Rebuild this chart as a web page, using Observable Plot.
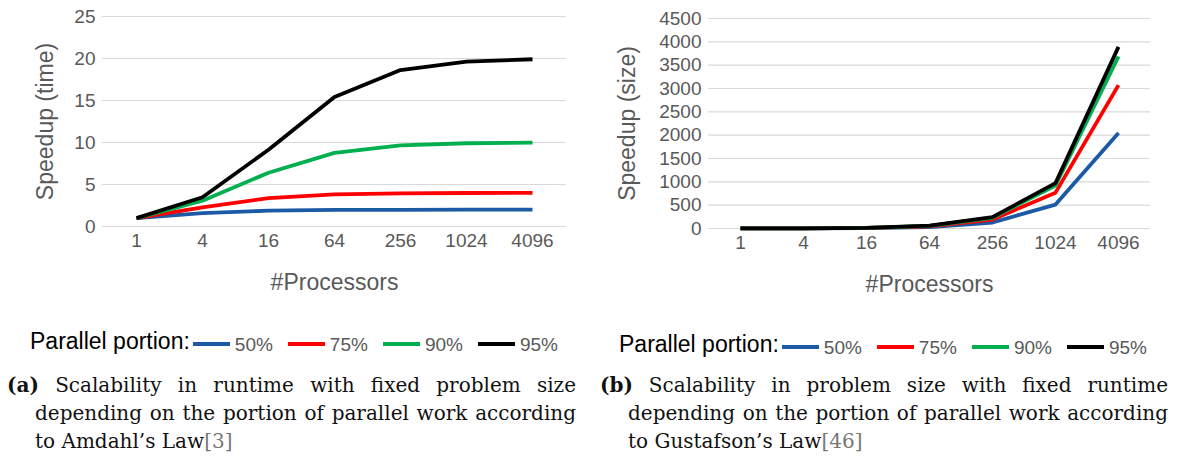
<!DOCTYPE html>
<html><head><meta charset="utf-8">
<script src="https://cdn.jsdelivr.net/npm/d3@7"></script>
<script src="https://cdn.jsdelivr.net/npm/@observablehq/plot@0.6"></script>
<style>
html,body{margin:0;padding:0;background:#fff;width:1181px;height:465px;overflow:hidden;}
.panel{position:absolute;top:0;}
.legend{position:absolute;font-family:"Liberation Sans",Arial,sans-serif;display:flex;align-items:center;white-space:nowrap;height:30px;}
.legend .title{font-size:23px;color:#000;margin-right:3px;}
.legend .sw{display:inline-block;width:37px;height:4px;margin-right:5px;position:relative;top:3px;}
.legend .lab{font-size:19px;color:#595959;margin-right:15px;position:relative;top:4px;}
.caption{position:absolute;font-family:"DejaVu Serif",serif;font-size:20px;line-height:28px;color:#111;}
.caption .ln{display:block;white-space:nowrap;text-align:justify;text-align-last:justify;}
.caption .ln.last{text-align-last:left;}
.caption .ind{padding-left:28px;}
.caption .ref{color:#777;}
</style></head>
<body>
<div id="left" class="panel" style="left:0"></div>
<div id="right" class="panel" style="left:590px"></div>
<div class="legend" id="legL" style="left:30px;top:326px"></div>
<div class="legend" id="legR" style="left:619px;top:329px"></div>
<div class="caption" style="left:7px;top:371px;width:569px">
<span class="ln"><b>(a)</b> Scalability in runtime with fixed problem size</span>
<span class="ln ind">depending on the portion of parallel work according</span>
<span class="ln ind last">to Amdahl’s Law<span class="ref">[3]</span></span>
</div>
<div class="caption" style="left:600px;top:371px;width:568px">
<span class="ln"><b>(b)</b> Scalability in problem size with fixed runtime</span>
<span class="ln ind">depending on the portion of parallel work according</span>
<span class="ln ind last">to Gustafson’s Law<span class="ref">[46]</span></span>
</div>
<script>
const processors = ["1","4","16","64","256","1024","4096"];
const portions = ["50%","75%","90%","95%"];
const colors = ["#1c5aa6","#ff0000","#00b050","#000000"];

// Amdahl speedup (time)
const amdahl50 = [1, 1.6, 1.88, 1.97, 1.99, 2.0, 2.0];
const amdahl75 = [1, 2.29, 3.37, 3.82, 3.95, 3.99, 4.0];
const amdahl90 = [1, 3.08, 6.4, 8.77, 9.66, 9.91, 9.98];
const amdahl95 = [1, 3.48, 9.14, 15.42, 18.62, 19.64, 19.91];

// Gustafson speedup (size)
const gust50 = [1, 2.5, 8.5, 32.5, 128.5, 512.5, 2048.5];
const gust75 = [1, 3.25, 12.25, 48.25, 192.25, 768.25, 3072.25];
const gust90 = [1, 3.7, 14.5, 57.7, 230.5, 921.7, 3686.5];
const gust95 = [1, 3.85, 15.25, 60.85, 243.25, 972.85, 3891.25];

const yTicksL = [0,5,10,15,20,25];
const yTicksR = [0,500,1000,1500,2000,2500,3000,3500,4000,4500];

function rows(series){
  const out=[];
  series.forEach((s,i)=>s.forEach((v,j)=>out.push({p:processors[j],v,s:portions[i]})));
  return out;
}

function chart(data, yDomain, yTicks, yTitle, ml, mr, mt, mb, titleDx){
  return Plot.plot({
    width:590, height:300,
    marginLeft:ml, marginRight:mr, marginTop:mt, marginBottom:mb,
    style:{fontFamily:"'Liberation Sans', Arial, sans-serif", fontSize:"19px", color:"#595959", background:"transparent", overflow:"visible"},
    x:{type:"point", domain:processors, padding:0.5, label:null},
    y:{domain:yDomain, label:null},
    color:{domain:portions, range:colors},
    marks:[
      Plot.gridY(yTicks,{stroke:"#d9d9d9", strokeOpacity:1, strokeWidth:1.2}),
      Plot.axisY(yTicks,{tickSize:0, tickPadding:7, label:null, fill:"#595959", tickFormat:d=>String(d)}),
      Plot.axisX({tickSize:0, tickPadding:7, label:null, fill:"#595959"}),
      Plot.line(data,{x:"p", y:"v", z:"s", stroke:"s", strokeWidth:3.8, strokeLinejoin:"miter", strokeLinecap:"butt"}),
      Plot.text([yTitle],{frameAnchor:"left", dx:titleDx, rotate:-90, textAnchor:"middle", fontSize:23, fill:"#595959"}),
      Plot.text(["#Processors"],{frameAnchor:"bottom", dy:63, textAnchor:"middle", fontSize:23, fill:"#595959"})
    ]
  });
}

document.getElementById("left").append(
  chart(rows([amdahl50,amdahl75,amdahl90,amdahl95]), [0,25], yTicksL, "Speedup (time)", 102, 24, 16, 74, -57));
document.getElementById("right").append(
  chart(rows([gust50,gust75,gust90,gust95]), [0,4500], yTicksR, "Speedup (size)", 118, 30, 18, 72, -81));

function legend(el){
  const t=document.createElement("span"); t.className="title"; t.textContent="Parallel portion:"; el.append(t);
  portions.forEach((p,i)=>{
    const sw=document.createElement("span"); sw.className="sw"; sw.style.background=colors[i]; el.append(sw);
    const l=document.createElement("span"); l.className="lab"; l.textContent=p; el.append(l);
  });
}
legend(document.getElementById("legL"));
legend(document.getElementById("legR"));
</script>
</body></html>
